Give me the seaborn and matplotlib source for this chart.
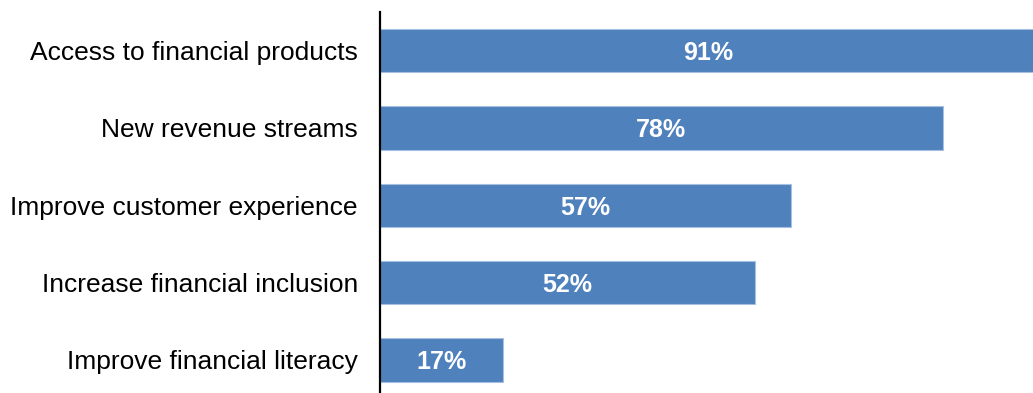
import matplotlib
matplotlib.use("Agg")
import matplotlib.pyplot as plt
import seaborn as sns
import pandas as pd

# Survey results: share of respondents citing each benefit
categories = [
    "Access to financial products",
    "New revenue streams",
    "Improve customer experience",
    "Increase financial inclusion",
    "Improve financial literacy",
]
values = [91, 78, 57, 52, 17]
value_labels = ["91%", "78%", "57%", "52%", "17%"]

df = pd.DataFrame({"category": categories, "value": values})

sns.set_theme(style="white")
plt.rcParams["font.family"] = ["Liberation Sans", "DejaVu Sans"]

W, H = 1033, 393
fig = plt.figure(figsize=(W / 100, H / 100), dpi=100)
# axes spans from the vertical axis line to the right edge
left, right, top, bottom = 380, 1033, 12, 398.6
ax = fig.add_axes([left / W, (H - bottom) / H, (right - left) / W, (bottom - top) / H])

sns.barplot(
    data=df, x="value", y="category", orient="h",
    color="#4F81BD", saturation=1, width=0.56,
    edgecolor="#A7BFE0", linewidth=0.8, ax=ax,
)

for patch, lab in zip(ax.patches, value_labels):
    cx = patch.get_x() + patch.get_width() / 2
    cy = patch.get_y() + patch.get_height() / 2
    ax.text(cx, cy, lab, ha="center", va="center_baseline", color="white",
            fontsize=18, fontweight="bold")

ax.set_xlim(0, 90.5)
ax.set_ylim(4.5, -0.5)
ax.set_xlabel("")
ax.set_ylabel("")
ax.set_xticks([])
ax.tick_params(axis="y", length=0, pad=16, labelsize=19, labelcolor="black")

for side in ["top", "right", "bottom"]:
    ax.spines[side].set_visible(False)
ax.spines["left"].set_color("black")
ax.spines["left"].set_linewidth(1.6)
ax.patch.set_alpha(0)

fig.savefig("out.png", dpi=100)
